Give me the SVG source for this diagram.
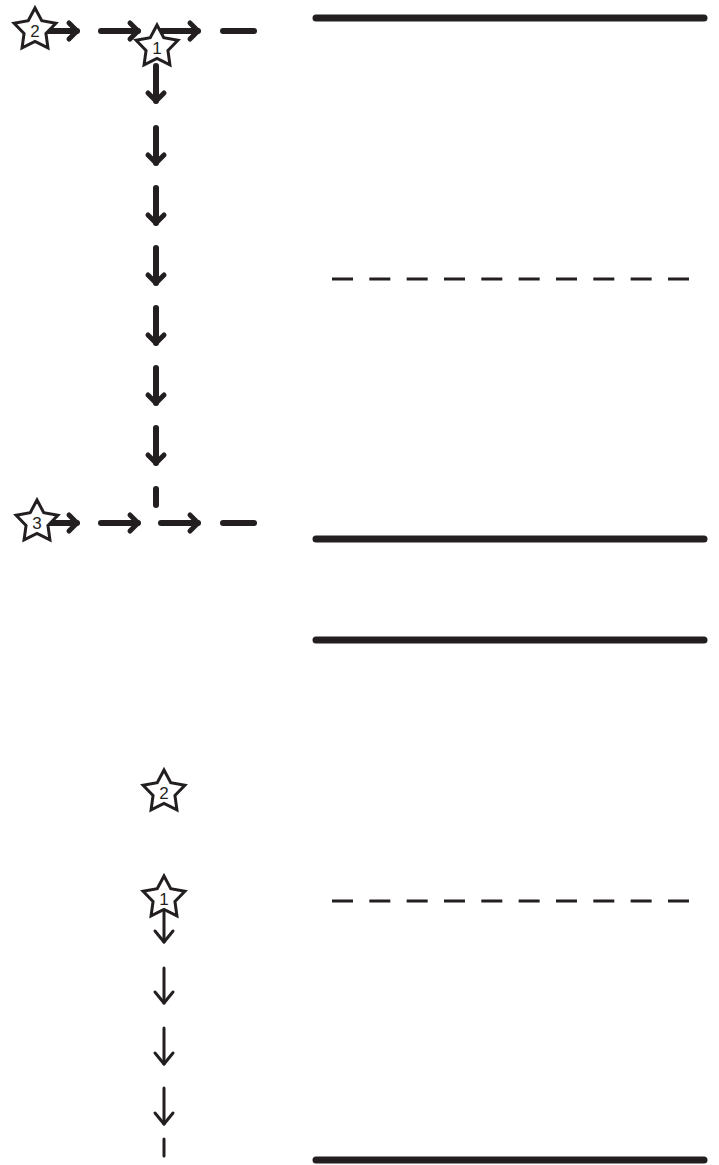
<svg xmlns="http://www.w3.org/2000/svg" width="719" height="1165" viewBox="0 0 719 1165">
<style>
.thick{stroke:#231f20;stroke-width:6;fill:none;stroke-linecap:round;stroke-linejoin:round}
.thin{stroke:#231f20;stroke-width:3;fill:none;stroke-linecap:round;stroke-linejoin:round}
.rule{stroke:#231f20;stroke-width:7;stroke-linecap:round;fill:none}
.dash{stroke:#231f20;stroke-width:3;stroke-dasharray:21 16.33;fill:none}
.star{fill:#fff;stroke:#231f20;stroke-width:3;stroke-linejoin:miter}
.lbl{font-family:"Liberation Sans",Arial,sans-serif;font-size:17px;fill:#231f20;text-anchor:middle}
</style>
<defs>
<marker id="ah" markerUnits="userSpaceOnUse" markerWidth="30" markerHeight="30" refX="0" refY="0" orient="auto" overflow="visible">
<path d="M-8,-8 L0,0 L-8,8" fill="none" stroke="#231f20" stroke-width="5" stroke-linecap="round" stroke-linejoin="round"/>
</marker>
<marker id="ahs" markerUnits="userSpaceOnUse" markerWidth="30" markerHeight="30" refX="0" refY="0" orient="auto" overflow="visible">
<path d="M-11,-9 L0,0 L-11,9" fill="none" stroke="#231f20" stroke-width="3" stroke-linecap="round" stroke-linejoin="round"/>
</marker>
<path id="starshape" d="M0,-22 L6.76,-9.31 L20.92,-6.8 L10.94,3.55 L12.93,17.8 L0,11.5 L-12.93,17.8 L-10.94,3.55 L-20.92,-6.8 L-6.76,-9.31 Z"/>
</defs>
<g id="rules">
<line class="rule" x1="316" y1="18" x2="704" y2="18"/>
<line class="dash" x1="332" y1="279" x2="689" y2="279"/>
<line class="rule" x1="316" y1="539" x2="704" y2="539"/>
<line class="rule" x1="316" y1="640" x2="704" y2="640"/>
<line class="dash" x1="332" y1="901" x2="689" y2="901"/>
<line class="rule" x1="316" y1="1160" x2="704" y2="1160"/>
</g>
<g id="connectors">
<path class="thick" marker-end="url(#ah)" d="M40,31 H77"/>
<path class="thick" marker-end="url(#ah)" d="M101,31 H138"/>
<path class="thick" marker-end="url(#ah)" d="M161,31 H198"/>
<path class="thick" d="M223,31 H254"/>
<path class="thick" marker-end="url(#ah)" d="M156,66 V101"/>
<path class="thick" marker-end="url(#ah)" d="M156,128 V163"/>
<path class="thick" marker-end="url(#ah)" d="M156,188 V223"/>
<path class="thick" marker-end="url(#ah)" d="M156,248 V283"/>
<path class="thick" marker-end="url(#ah)" d="M156,308 V343"/>
<path class="thick" marker-end="url(#ah)" d="M156,368 V403"/>
<path class="thick" marker-end="url(#ah)" d="M156,428 V463"/>
<path class="thick" d="M156,489 V505"/>
<path class="thick" marker-end="url(#ah)" d="M40,523 H77"/>
<path class="thick" marker-end="url(#ah)" d="M101,523 H138"/>
<path class="thick" marker-end="url(#ah)" d="M161,523 H198"/>
<path class="thick" d="M223,523 H254"/>
<path class="thin" marker-end="url(#ahs)" d="M164,912 V942"/>
<path class="thin" marker-end="url(#ahs)" d="M164,968 V1003"/>
<path class="thin" marker-end="url(#ahs)" d="M164,1028 V1064"/>
<path class="thin" marker-end="url(#ahs)" d="M164,1088 V1124"/>
<path class="thin" d="M164,1139 V1156"/>
</g>
<g id="star2-top"><use href="#starshape" class="star" x="35" y="30"/><text class="lbl" x="35" y="37">2</text></g>
<g id="star1-top"><use href="#starshape" class="star" x="157" y="47"/><text class="lbl" x="157" y="54">1</text></g>
<g id="star3"><use href="#starshape" class="star" x="37" y="522"/><text class="lbl" x="37" y="529">3</text></g>
<g id="star2-bottom"><use href="#starshape" class="star" x="164" y="792"/><text class="lbl" x="164" y="799">2</text></g>
<g id="star1-bottom"><use href="#starshape" class="star" x="164" y="898"/><text class="lbl" x="164" y="905">1</text></g>
</svg>
